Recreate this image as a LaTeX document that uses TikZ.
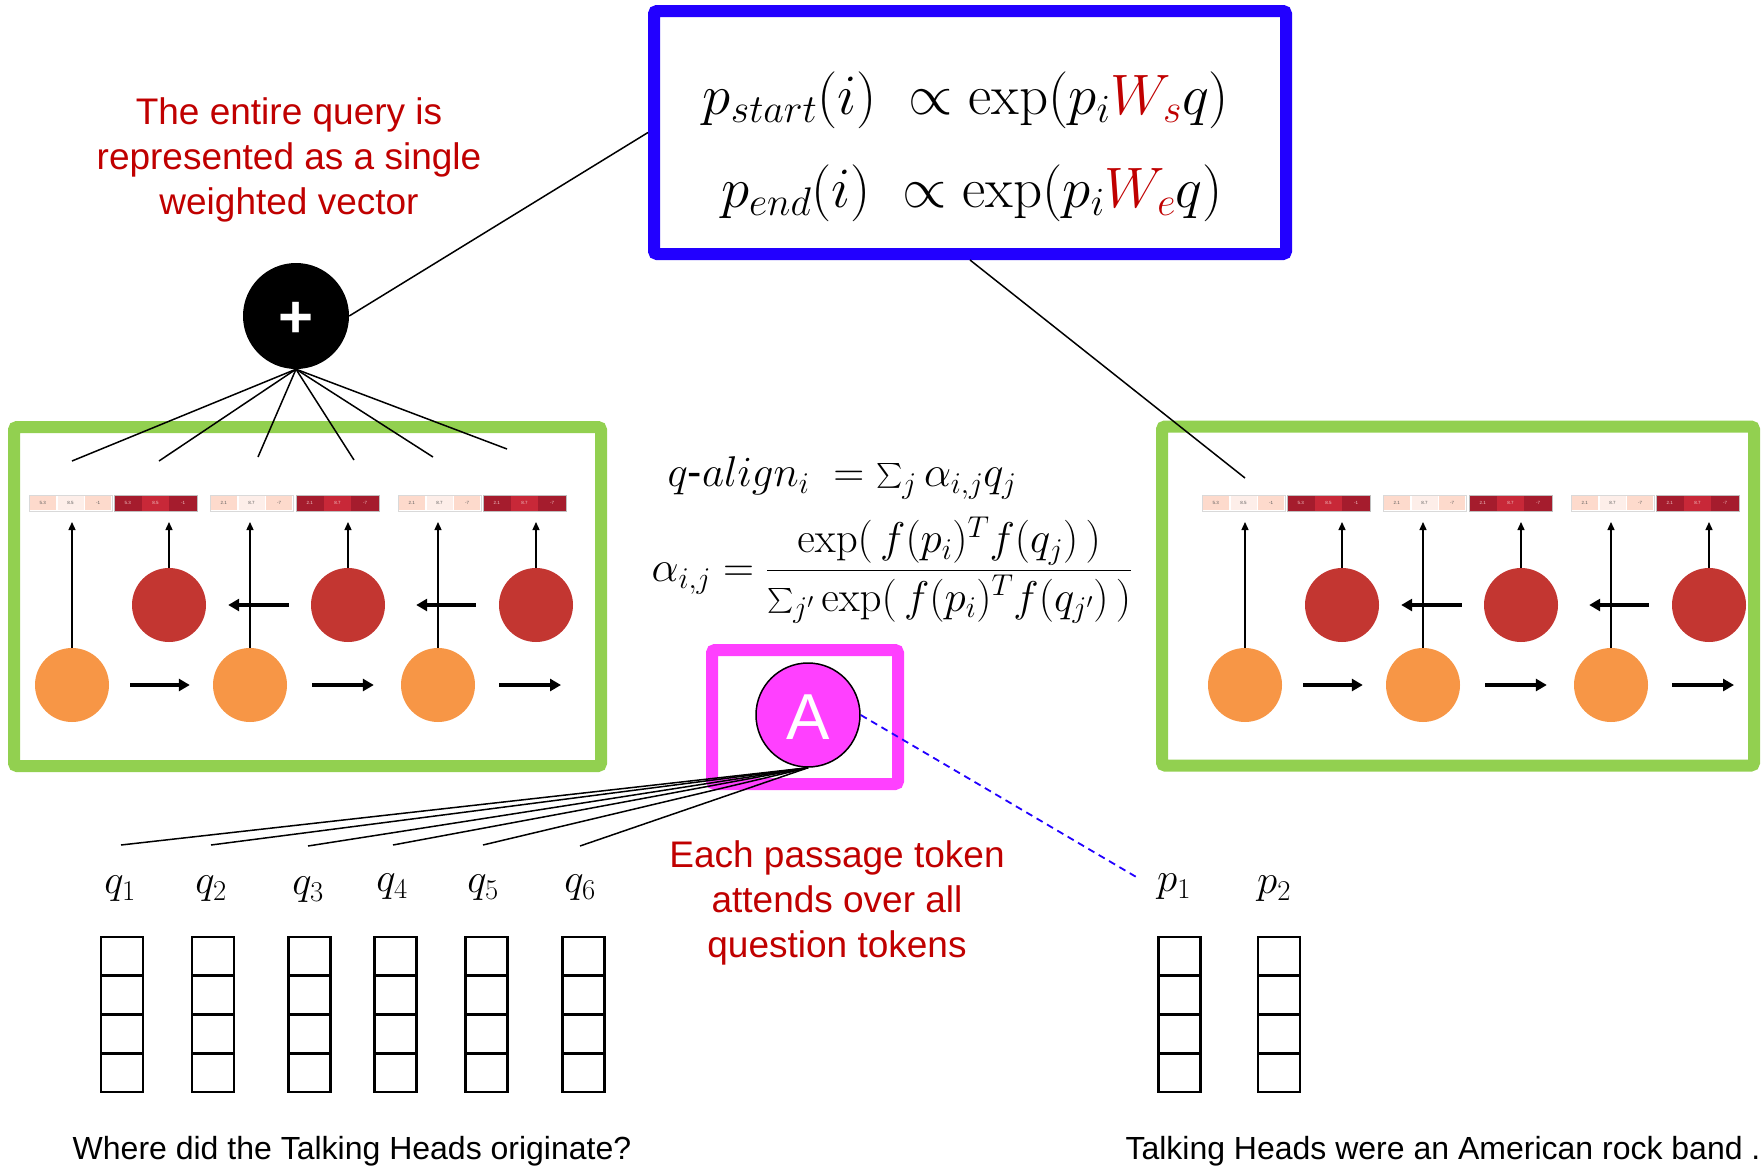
\RequirePackage{fix-cm}
\documentclass[tikz,border=0pt]{standalone}
\usepackage{amsmath}
\usepackage[no-math]{fontspec}
\setmainfont{Liberation Sans}
\usetikzlibrary{arrows.meta,calc}
\definecolor{bluebox}{RGB}{34,0,255}
\definecolor{greenbox}{RGB}{146,208,80}
\definecolor{magbox}{RGB}{255,64,255}
\definecolor{txtred}{RGB}{192,0,0}
\definecolor{orangec}{RGB}{247,150,70}
\definecolor{redc}{RGB}{195,54,49}
\definecolor{lightA}{RGB}{253,218,204}
\definecolor{lightB}{RGB}{253,238,233}
\definecolor{darkA}{RGB}{165,28,45}
\definecolor{darkB}{RGB}{200,40,56}
\definecolor{numdark}{RGB}{90,90,90}
\definecolor{numlight}{RGB}{240,200,200}
\tikzset{
  frame/.style={line width=12pt, rounded corners=3pt, inner sep=0},
  orangenode/.style={circle, fill=orangec, minimum size=74pt, inner sep=0},
  rednode/.style={circle, fill=redc, minimum size=74pt, inner sep=0},
  thinarrow/.style={line width=1.3pt, -{Triangle[length=8pt,width=7pt]}},
  thickarrow/.style={line width=4pt, -{Triangle[length=11pt,width=12pt]}},
  tokbox/.style={draw, line width=2.5pt, minimum width=42pt, minimum height=38.75pt, inner sep=0},
  conn/.style={line width=1.5pt},
  redtxt/.style={text=txtred, font=\fontsize{37}{45}\selectfont, align=center},
  numtxt/.style={font=\fontsize{4.5}{5}\selectfont, inner sep=0},
  bigmath/.style={font=\fontsize{57}{66}\selectfont, inner sep=0},
  midmath/.style={font=\fontsize{43}{50}\selectfont, inner sep=0},
  toklabel/.style={font=\fontsize{41}{48}\selectfont, inner sep=0},
  bottomtxt/.style={font=\fontsize{32}{38}\selectfont, inner sep=0}
}
% light vector group: x, three numbers
\newcommand\lightgroup[4]{%
  \fill[lightA] (#1+0.9,496) rectangle (#1+26.8,510);
  \fill[lightB] (#1+28.6,496) rectangle (#1+54.5,510);
  \fill[lightA] (#1+56.3,496) rectangle (#1+82.1,510);
  \draw[gray!30, line width=0.6pt] (#1,495) rectangle (#1+83,511);
  \node[numtxt, text=numdark] at (#1+13.85,503) {#2};
  \node[numtxt, text=numdark] at (#1+41.5,503) {#3};
  \node[numtxt, text=numdark] at (#1+69.2,503) {#4};
}
\newcommand\darkgroup[4]{%
  \fill[darkA] (#1,495) rectangle (#1+27.7,511);
  \fill[darkB] (#1+27.7,495) rectangle (#1+55.3,511);
  \fill[darkA] (#1+55.3,495) rectangle (#1+83,511);
  \draw[gray!50, line width=0.6pt] (#1,495) rectangle (#1+83,511);
  \node[numtxt, text=numlight] at (#1+13.85,503) {#2};
  \node[numtxt, text=numlight] at (#1+41.5,503) {#3};
  \node[numtxt, text=numlight] at (#1+69.2,503) {#4};
}
% RNN block: prefix, x offset
\newcommand\rnnblock[2]{%
  \lightgroup{29+#2}{5.3}{8.5}{-1}
  \darkgroup{114+#2}{5.3}{8.5}{-1}
  \lightgroup{210+#2}{2.1}{8.7}{-7}
  \darkgroup{296+#2}{2.1}{8.7}{-7}
  \lightgroup{398+#2}{2.1}{8.7}{-7}
  \darkgroup{483+#2}{2.1}{8.7}{-7}
  \node[orangenode] (#1o1) at (72+#2,685) {};
  \node[orangenode] (#1o2) at (250+#2,685) {};
  \node[orangenode] (#1o3) at (438+#2,685) {};
  \node[rednode] (#1r1) at (169+#2,605) {};
  \node[rednode] (#1r2) at (348+#2,605) {};
  \node[rednode] (#1r3) at (536+#2,605) {};
  \coordinate (#1tip) at (#2,522);
  \coordinate (#1oend) at (561+#2,685);
  \draw[thickarrow, shorten <=21pt, shorten >=23pt] (#1o1) -- (#1o2);
  \draw[thickarrow, shorten <=25pt, shorten >=27pt] (#1o2) -- (#1o3);
  \draw[thickarrow, shorten <=24pt] (#1o3) -- (#1oend);
  \draw[thickarrow, shorten <=22pt, shorten >=22pt] (#1r2) -- (#1r1);
  \draw[thickarrow, shorten <=23pt, shorten >=31pt] (#1r3) -- (#1r2);
  \foreach \n in {o1,o2,o3,r1,r2,r3}
    \draw[thinarrow] (#1\n.north) -- (#1\n.north |- #1tip);
}
\begin{document}
\begin{tikzpicture}[x=1pt,y=-1pt]
\useasboundingbox (0,0) rectangle (1762,1170);
\fill[white] (0,0) rectangle (1762,1170);

% green frames
\node[frame, draw=greenbox, minimum width=587pt, minimum height=339pt] (lbox) at (307.5,596.5) {};
\node[frame, draw=greenbox, minimum width=592pt, minimum height=339pt] (rbox) at (1458,596) {};

\rnnblock{L}{0}
\rnnblock{R}{1173}

% blue formula box
\node[frame, draw=bluebox, minimum width=632pt, minimum height=243pt] (fbox) at (970,132.5) {};
\node[bigmath] (f1) at (966,100) {$p_{start}(i)\;\propto \exp(p_i\textcolor{txtred}{W_s}q)$};
\node[bigmath] (f2) at (972,193) {$p_{end}(i)\;\propto \exp(p_i\textcolor{txtred}{W_e}q)$};

% plus node
\node[circle, fill=black, minimum size=106pt, inner sep=0, text=white, font=\bfseries\fontsize{60}{60}\selectfont] (plus) at (296,316) {\raisebox{0pt}[\dimexpr\height+8pt\relax]{+}};
\node[redtxt] (qtxt) at (289,159.5) {The entire query is\\represented as a single\\weighted vector};

\coordinate (c1) at (72,461);
\coordinate (c2) at (159,461);
\coordinate (c3) at (258,457);
\coordinate (c4) at (354,460);
\coordinate (c5) at (433,457);
\coordinate (c6) at (507,449);
\foreach \i in {1,...,6} \draw[conn] (plus.south) -- (c\i);
\draw[conn] (plus.east) -- (fbox.west);
\coordinate (rtop) at (1245,478);
\draw[conn] (fbox.south) -- (rtop);

% middle formulas
\node[midmath] (fa) at (842,478) {$q\text{-}align_i\ = \textstyle\sum_j \alpha_{i,j} q_j$};
\node[midmath] (fb) at (892,570) {$\alpha_{i,j} = \dfrac{\exp(\,f(p_i)^T f(q_j)\,)}{\textstyle\sum_{j'}\exp(\,f(p_i)^T f(q_{j'})\,)}$};

% attention
\node[frame, draw=magbox, minimum width=186pt, minimum height=134pt] (mbox) at (805,717) {};
\node[circle, draw=black, line width=1.5pt, fill=magbox, minimum size=104pt, inner sep=0, text=white, font=\fontsize{65}{65}\selectfont] (A) at (808,715) {\raisebox{0pt}[\dimexpr\height+4pt\relax]{A}};
\coordinate (qe1) at (121,845);
\coordinate (qe2) at (211,845);
\coordinate (qe3) at (308,846);
\coordinate (qe4) at (393,845);
\coordinate (qe5) at (483,845);
\coordinate (qe6) at (580,846);
\foreach \i in {1,...,6} \draw[conn] (qe\i) -- (A.south);
\coordinate (pe) at (1138,878);
\draw[line width=1.8pt, bluebox, dash pattern=on 7pt off 5pt] (A.east) -- (pe);
\node[redtxt] (ptxt) at (837,903) {Each passage token\\attends over all\\question tokens};

% token labels
\node[toklabel] (lq1) at (120,889) {$q_1$};
\node[toklabel] (lq2) at (211,889) {$q_2$};
\node[toklabel] (lq3) at (308,890) {$q_3$};
\node[toklabel] (lq4) at (392,887) {$q_4$};
\node[toklabel] (lq5) at (483,888) {$q_5$};
\node[toklabel] (lq6) at (580,888) {$q_6$};
\node[toklabel] (lp1) at (1174,887) {$p_1$};
\node[toklabel] (lp2) at (1274,889) {$p_2$};

% token columns
\foreach \nm/\x in {q1/122,q2/213,q3/309.5,q4/395.5,q5/486.5,q6/583.5,p1/1179.5,p2/1279}
  \foreach \k/\y in {1/956.4,2/995.1,3/1033.9,4/1072.6}
    \node[tokbox] (t\nm\k) at (\x,\y) {};

\node[bottomtxt] (qsent) at (352,1151) {Where did the Talking Heads originate?};
\node[bottomtxt] (psent) at (1443,1151) {Talking Heads were an American rock band .};
\end{tikzpicture}
\end{document}
